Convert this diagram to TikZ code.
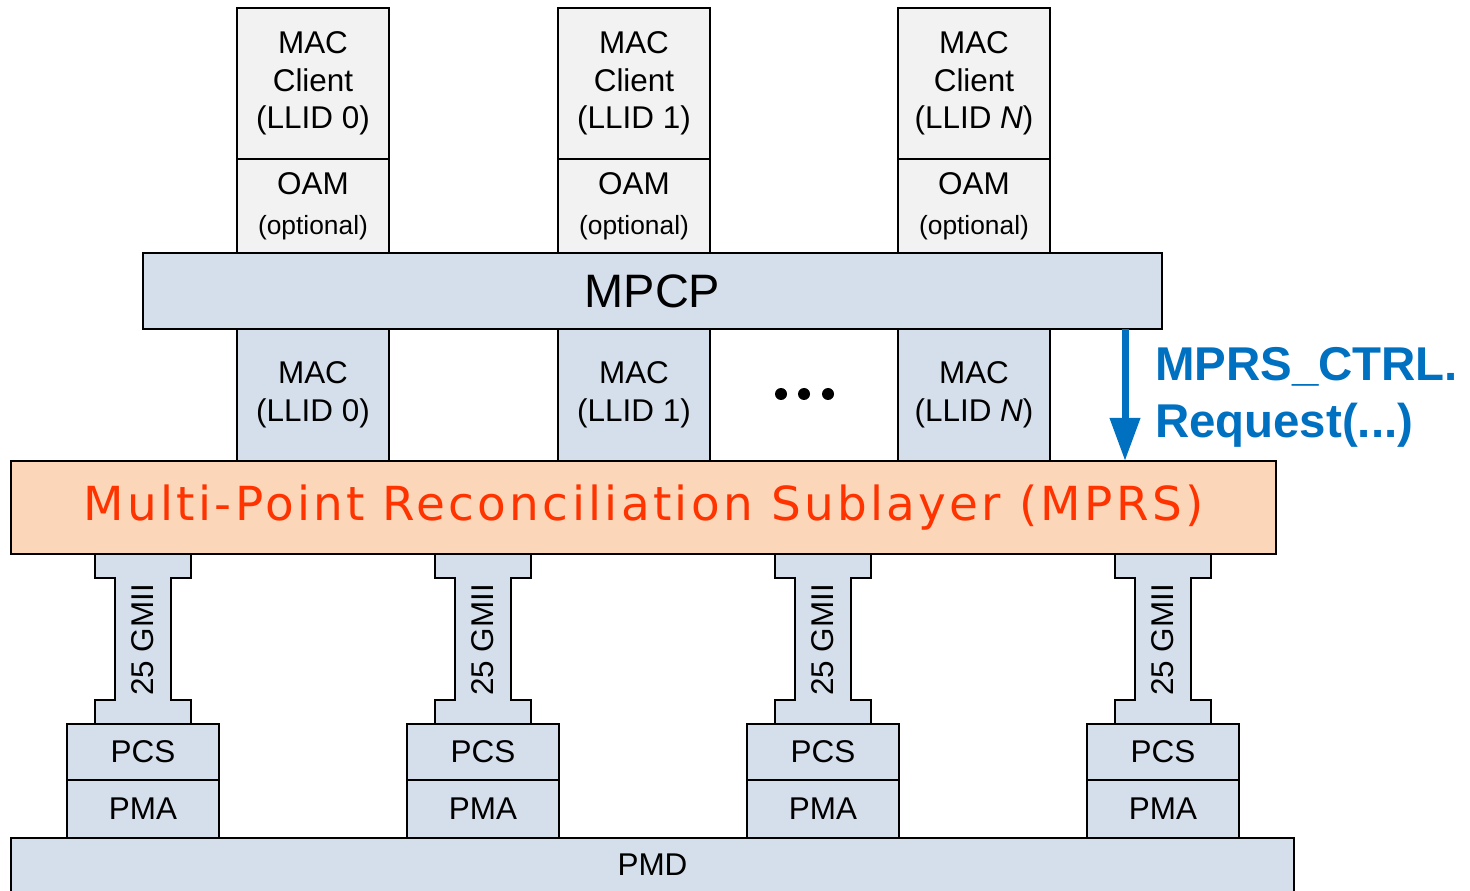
\documentclass[tikz,border=0pt]{standalone}
\usepackage{fontspec}
\setmainfont{Liberation Sans}
\newfontfamily\mprsfont{DejaVu Sans}[LetterSpace=7]
\usetikzlibrary{arrows.meta}
\definecolor{layerblue}{RGB}{213,223,235}
\definecolor{clientgray}{RGB}{242,242,242}
\definecolor{mprsfill}{RGB}{251,214,184}
\definecolor{mprsred}{RGB}{255,51,0}
\definecolor{ctrlblue}{RGB}{0,112,192}
\begin{document}
\begin{tikzpicture}[x=0.02cm,y=-0.02cm,
  every node/.style={inner sep=0pt,outer sep=0pt},
  txt/.style={font=\fontsize{17.9}{21.5}\selectfont},
  clientbox/.style={draw=black,line width=1pt,fill=clientgray,minimum width=3.04cm,align=center,txt},
  layer/.style={draw=black,line width=1pt,fill=layerblue},
  macbox/.style={layer,minimum width=3.04cm,minimum height=2.64cm,align=center,txt},
  phybox/.style={layer,minimum width=3.04cm,txt},
  ctrl/.style={text=ctrlblue,anchor=base west,font=\bfseries\fontsize{27}{32}\selectfont}
]
\path[use as bounding box,clip] (0,0) rectangle (1470,891);

% MAC clients with their OAM sublayers
\foreach \cx/\id/\lab in {313/0/0,634/1/1,974/N/\textit{N}}{
  \node[clientbox,minimum height=3.02cm] (client\id) at (\cx,83.5) {MAC\\Client\\(LLID \lab)};
  \node[clientbox,minimum height=1.88cm] (oam\id) at (\cx,206)
    {OAM\\[1pt]{\fontsize{15}{18}\selectfont(optional)}};
  \node[macbox] (mac\id) at (\cx,395) {MAC\\(LLID \lab)};
}

% MPCP
\node[layer,minimum width=20.38cm,minimum height=1.52cm,font=\fontsize{26.7}{32}\selectfont] (mpcp) at (652.5,291) {MPCP};

% ellipsis between the MAC instances
\foreach \dx in {781,804,828}{\fill (\dx,394) circle[radius=0.12cm];}

% MPRS
\node[draw=black,line width=1pt,fill=mprsfill,minimum width=25.3cm,minimum height=1.86cm,
  text=mprsred,font=\mprsfont\fontsize{26.7}{32}\selectfont] (mprs) at (643.5,507.5)
  {Multi-Point Reconciliation Sublayer (MPRS)};

% control primitive
\coordinate (ctrltop) at (1125,329);
\draw[ctrlblue,line width=4pt,-{Triangle[width=16.5pt,length=24.5pt]}] (ctrltop) -- (ctrltop |- mprs.north);
\node[ctrl] (ctrl1) at (1155,381) {MPRS\_CTRL.};
\node[ctrl] (ctrl2) at (1155,438) {Request(...)};

% PMD
\node[layer,minimum width=25.66cm,minimum height=1.8cm,anchor=north] (pmd) at (652.5,838) {};
\node[txt] (pmdlabel) at (652.5,865) {PMD};

% GMII links with PCS and PMA
\foreach \cx/\i in {143/1,483/2,823/3,1163/4}{
  \draw[layer] (\cx-48,554) -- (\cx+48,554) -- (\cx+48,578) -- (\cx+28,578) -- (\cx+28,700)
    -- (\cx+48,700) -- (\cx+48,724) -- (\cx-48,724) -- (\cx-48,700) -- (\cx-28,700)
    -- (\cx-28,578) -- (\cx-48,578) -- cycle;
  \node[txt,rotate=90] (gmii\i) at (\cx,640) {25 GMII};
  \node[phybox,minimum height=1.12cm] (pcs\i) at (\cx,752) {PCS};
  \node[phybox,minimum height=1.16cm] (pma\i) at (\cx,809) {PMA};
}
\end{tikzpicture}
\end{document}
